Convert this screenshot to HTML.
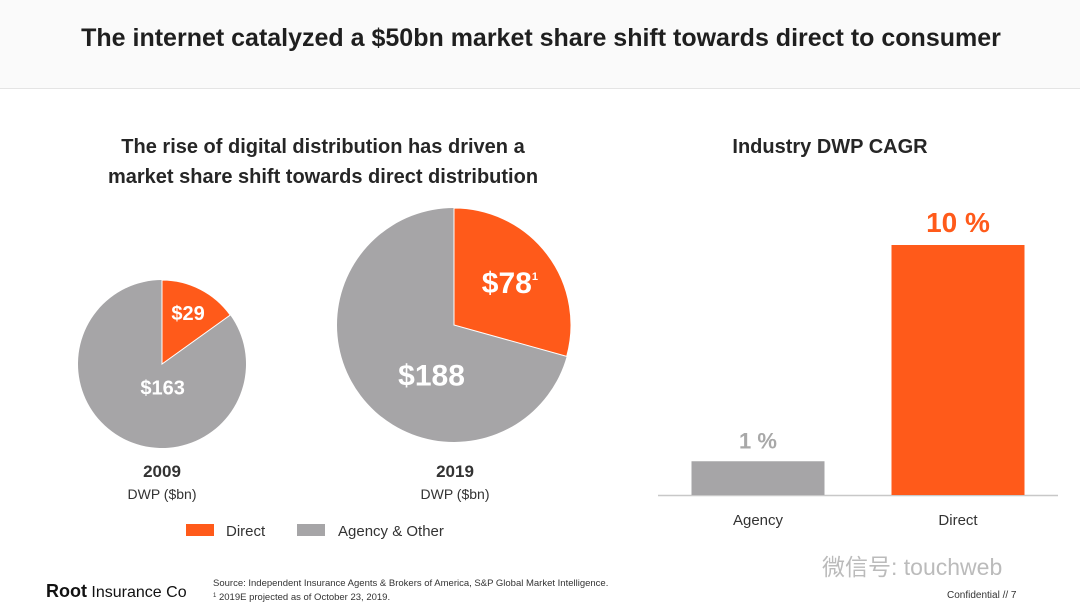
<!DOCTYPE html>
<html><head><meta charset="utf-8">
<style>
body{margin:0;width:1080px;height:612px;background:#fff;overflow:hidden;font-family:"Liberation Sans","Noto Sans CJK SC",sans-serif;}
svg{display:block}
</style></head>
<body>
<svg id="s" width="1080" height="612" viewBox="0 0 1080 612">
<rect x="0" y="0" width="1080" height="88" fill="#fafafa"/>
<line x1="0" y1="88.5" x2="1080" y2="88.5" stroke="#e4e4e4"/>
<text x="541" y="46" text-anchor="middle" font-size="25" font-weight="bold" fill="#1f1f1f">The internet catalyzed a $50bn market share shift towards direct to consumer</text>
<text x="323" y="153" text-anchor="middle" font-size="20" font-weight="bold" fill="#262626">The rise of digital distribution has driven a</text>
<text x="323" y="183" text-anchor="middle" font-size="20" font-weight="bold" fill="#262626">market share shift towards direct distribution</text>
<text x="830" y="153" text-anchor="middle" font-size="20" font-weight="bold" fill="#262626">Industry DWP CAGR</text>
<g id="pies"></g>
<g id="bars"></g>
<text x="162" y="477" text-anchor="middle" font-size="17" font-weight="bold" fill="#333">2009</text>
<text x="162" y="499" text-anchor="middle" font-size="14" fill="#333">DWP ($bn)</text>
<text x="455" y="477" text-anchor="middle" font-size="17" font-weight="bold" fill="#333">2019</text>
<text x="455" y="499" text-anchor="middle" font-size="14" fill="#333">DWP ($bn)</text>
<g><rect x="186" y="524" width="28" height="12" fill="#FF5A1A"/><text x="226" y="536" font-size="15" fill="#333">Direct</text></g>
<g><rect x="297" y="524" width="28" height="12" fill="#A6A5A7"/><text x="338" y="536" font-size="15" fill="#333">Agency &amp; Other</text></g>
<text x="46" y="597" font-size="18" font-weight="bold" fill="#111">Root<tspan font-weight="normal" font-size="16"> Insurance Co</tspan></text>
<text x="213" y="586" font-size="9.5" fill="#333">Source: Independent Insurance Agents &amp; Brokers of America, S&amp;P Global Market Intelligence.</text>
<text x="213" y="600" font-size="9.5" fill="#333"><tspan font-size="6" dy="-3">1</tspan><tspan dy="3"> 2019E projected as of October 23, 2019.</tspan></text>
<text x="822" y="575" font-size="23" fill="#bbb">微信号: touchweb</text>
<text x="947" y="598" font-size="10" fill="#333">Confidential   //   7</text>
</svg>
<script>
const pieYears=["2009","2019"];
const directValues=[29,78];
const agencyValues=[163,188];
const directLabels=["$29","$78"];
const agencyLabels=["$163","$188"];
const barCategories=["Agency","Direct"];
const barValues=[1.35,10];
const barLabels=["1 %","10 %"];

const NS="http://www.w3.org/2000/svg";
function mk(tag,attrs,parent){const e=document.createElementNS(NS,tag);for(const k in attrs)e.setAttribute(k,attrs[k]);parent.appendChild(e);return e;}
const OR="#FF5A1A",GR="#A6A5A7";
const pies=document.getElementById('pies');
const centers=[[162,364],[454,325]];
const radii=[84,117];
const directLabelFrac=[0.68,0.6];
const agencyLabelFrac=[0.28,0.47];
function pt(cx,cy,r,a){return [cx+r*Math.sin(a),cy-r*Math.cos(a)];}
pieYears.forEach((y,i)=>{
  const [cx,cy]=centers[i],r=radii[i];
  const tot=directValues[i]+agencyValues[i];
  const a=directValues[i]/tot*2*Math.PI;
  const p1=pt(cx,cy,r,0),p2=pt(cx,cy,r,a);
  const g=mk('path',{d:`M${cx},${cy}L${p2[0]},${p2[1]}A${r},${r} 0 ${a>Math.PI?0:1} 1 ${p1[0]},${p1[1]}Z`,fill:GR},pies);
  
  
  const d=mk('path',{d:`M${cx},${cy}L${p1[0]},${p1[1]}A${r},${r} 0 ${a>Math.PI?1:0} 1 ${p2[0]},${p2[1]}Z`,fill:OR,stroke:'#fff','stroke-width':1},pies);
  
  
  const fs=i==0?20:30;
  const dl=pt(cx,cy,r*directLabelFrac[i],a/2);
  const t1=mk('text',{x:dl[0],y:dl[1]+fs*0.35,'text-anchor':'middle','font-size':fs,'font-weight':'bold',fill:'#fff'},pies);
  t1.textContent=directLabels[i];
  if(i==1){const sp=mk('tspan',{'font-size':11,dy:-13},t1);sp.textContent='1';}
  
  
  const al=pt(cx,cy,r*agencyLabelFrac[i],a+(2*Math.PI-a)/2-0.5);
  const t2=mk('text',{x:al[0],y:al[1]+fs*0.35,'text-anchor':'middle','font-size':fs,'font-weight':'bold',fill:'#fff'},pies);
  t2.textContent=agencyLabels[i];
  
  
});
const bars=document.getElementById('bars');
const baseY=495,topY=245,maxV=10;
const yS=v=>baseY-(v/maxV)*(baseY-topY);
const xC=[758,958],bw=133;
const ax=mk('line',{x1:658,y1:baseY+0.5,x2:1058,y2:baseY+0.5,stroke:'#c8c8c8','stroke-width':1.5},bars);


barCategories.forEach((c,i)=>{
  const col=i==0?GR:OR;
  const b=mk('rect',{x:xC[i]-bw/2,y:yS(barValues[i]),width:bw,height:baseY-yS(barValues[i]),fill:col},bars);
  
  
  const v=mk('text',{x:xC[i],y:yS(barValues[i])-13,'text-anchor':'middle','font-size':i==0?22:28,'font-weight':'bold',fill:i==0?'#a8a8a8':OR},bars);
  v.textContent=barLabels[i];
  
  
  const l=mk('text',{x:xC[i],y:525,'text-anchor':'middle','font-size':15,fill:'#333'},bars);
  l.textContent=c;
  
  
});
</script>
</body></html>
